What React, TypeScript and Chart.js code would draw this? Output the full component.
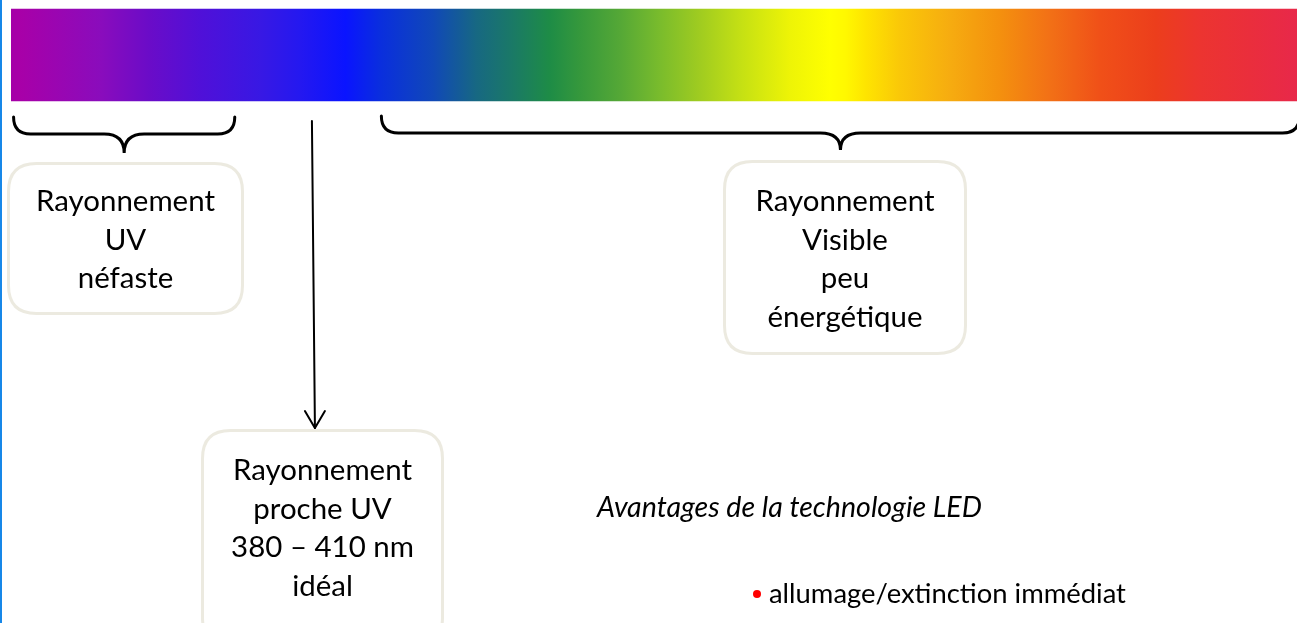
import React, { useEffect, useRef } from "react";
import { Chart, registerables } from "chart.js";

Chart.register(...registerables);

// Spectrum axis (wavelength, nm)
const spectrumRange: [number, number] = [280, 780];
const spectrumRow = 55;
// Colour stops along the spectrum (fraction of the bar, colour)
const stopPositions = [0, 0.007, 0.07, 0.108, 0.147, 0.194, 0.225, 0.26, 0.287, 0.328, 0.362, 0.388, 0.419, 0.442, 0.474, 0.505, 0.536, 0.567, 0.606, 0.637, 0.649, 0.665, 0.691, 0.73, 0.769, 0.808, 0.847, 0.89, 0.925, 0.963, 1];
const stopColors = ["#A400A8", "#A800A8", "#8A0CBC", "#6A0CC8", "#5010D8", "#3818E4", "#2418F0", "#0A14FF", "#0A2EDE", "#1048B8", "#176882", "#1A7868", "#1E8C46", "#35983C", "#55A836", "#7ABC2C", "#A0CC20", "#C4E014", "#EEF406", "#FFFF00", "#FFF800", "#FEE400", "#FAC808", "#F6AC10", "#F4900E", "#F27016", "#F05018", "#EC3E1C", "#EC3430", "#EA2E3C", "#E8284A"];

// Regions of the spectrum (nm)
const uvBand: [number, number] = [281, 367];
const nearUvPeak = 397;
const visibleBand: [number, number] = [424, 781];

// Texts
const uvLabel = ["Rayonnement", "UV", "néfaste"];
const visibleLabel = ["Rayonnement", "Visible", "peu", "énergétique"];
const nearUvLabel = ["Rayonnement", "proche UV", "380 – 410 nm", "idéal"];
const advantagesTitle = "Avantages de la technologie LED";
const advantagesItems = ["allumage/extinction immédiat"];

const FONT = "Lato, 'Noto Sans', sans-serif";

function fitSize(ctx: CanvasRenderingContext2D, text: string, style: string, target: number) {
  ctx.font = `${style} 100px ${FONT}`;
  const w = ctx.measureText(text).width;
  return (100 * target) / w;
}

function roundRect(ctx: CanvasRenderingContext2D, x: number, y: number, w: number, h: number, r: number) {
  ctx.beginPath();
  ctx.moveTo(x + r, y);
  ctx.lineTo(x + w - r, y);
  ctx.quadraticCurveTo(x + w, y, x + w, y + r);
  ctx.lineTo(x + w, y + h - r);
  ctx.quadraticCurveTo(x + w, y + h, x + w - r, y + h);
  ctx.lineTo(x + r, y + h);
  ctx.quadraticCurveTo(x, y + h, x, y + h - r);
  ctx.lineTo(x, y + r);
  ctx.quadraticCurveTo(x, y, x + r, y);
  ctx.closePath();
}

function brace(ctx: CanvasRenderingContext2D, x0: number, x1: number, yTop: number, yH: number, yCusp: number, r: number) {
  const cx = (x0 + x1) / 2;
  const cw = 20;
  ctx.beginPath();
  ctx.moveTo(x0, yTop);
  ctx.quadraticCurveTo(x0, yH, x0 + r, yH);
  ctx.lineTo(cx - cw, yH);
  ctx.quadraticCurveTo(cx, yH, cx, yCusp);
  ctx.quadraticCurveTo(cx, yH, cx + cw, yH);
  ctx.lineTo(x1 - r, yH);
  ctx.quadraticCurveTo(x1, yH, x1, yTop);
  ctx.stroke();
}

const overlay = {
  id: "overlay",
  beforeDraw(chart: any) {
    const ctx: CanvasRenderingContext2D = chart.ctx;
    ctx.save();
    ctx.fillStyle = "#ffffff";
    ctx.fillRect(0, 0, chart.width, chart.height);
    ctx.fillStyle = "#1787E8";
    ctx.fillRect(0, 0, 2, chart.height);
    ctx.restore();
  },
  afterDatasetsDraw(chart: any) {
    const ctx: CanvasRenderingContext2D = chart.ctx;
    const xs = chart.scales.x;
    ctx.save();
    ctx.strokeStyle = "#000";
    ctx.lineWidth = 3;
    ctx.lineCap = "round";
    brace(ctx, xs.getPixelForValue(uvBand[0]), xs.getPixelForValue(uvBand[1]), 117, 134, 153, 17);
    brace(ctx, xs.getPixelForValue(visibleBand[0]), xs.getPixelForValue(visibleBand[1]), 116, 133, 150, 17);

    // arrow
    const ax = xs.getPixelForValue(nearUvPeak);
    ctx.lineWidth = 2;
    ctx.beginPath();
    ctx.moveTo(ax, 121);
    ctx.lineTo(ax + 3, 428);
    ctx.stroke();
    ctx.beginPath();
    ctx.moveTo(ax + 3 - 10, 411);
    ctx.lineTo(ax + 3, 428);
    ctx.lineTo(ax + 3 + 10, 411);
    ctx.stroke();

    // boxes
    const boxes = [
      { x: 8.5, y: 163.5, w: 234, h: 150, cx: 125.5, lines: uvLabel, base: 211 },
      { x: 724.5, y: 161.5, w: 241, h: 192, cx: 845, lines: visibleLabel, base: 211 },
      { x: 202.5, y: 430.5, w: 240, h: 215, cx: 322.5, lines: nearUvLabel, base: 480 },
    ];
    const size = fitSize(ctx, "Rayonnement", "normal", 179);
    for (const b of boxes) {
      roundRect(ctx, b.x, b.y, b.w, b.h, 28);
      ctx.fillStyle = "#ffffff";
      ctx.fill();
      ctx.strokeStyle = "#ECEAE0";
      ctx.lineWidth = 3;
      ctx.stroke();
      ctx.fillStyle = "#000";
      ctx.textAlign = "center";
      ctx.textBaseline = "alphabetic";
      ctx.font = `normal ${size}px ${FONT}`;
      b.lines.forEach((t, i) => ctx.fillText(t, b.cx, b.base + i * 38.5));
    }

    // advantages
    const tSize = fitSize(ctx, advantagesTitle, "italic", 385);
    ctx.font = `italic ${tSize}px ${FONT}`;
    ctx.textAlign = "left";
    ctx.fillText(advantagesTitle, 597, 517);
    const iSize = fitSize(ctx, advantagesItems[0], "normal", 357);
    ctx.font = `normal ${iSize}px ${FONT}`;
    advantagesItems.forEach((t, i) => {
      const y = 603 + i * 40;
      ctx.fillStyle = "#FF0000";
      ctx.beginPath();
      ctx.arc(757, y - 9, 4, 0, Math.PI * 2);
      ctx.fill();
      ctx.fillStyle = "#000";
      ctx.fillText(t, 769, y);
    });
    ctx.restore();
  },
};

export default function App() {
  const ref = useRef<HTMLCanvasElement>(null);
  useEffect(() => {
    if (!ref.current) return;
    const chart = new Chart(ref.current, {
      type: "bar",
      data: {
        datasets: [
          {
            label: "Spectre",
            data: [{ x: spectrumRange, y: spectrumRow }] as any,
            barThickness: 92,
            borderWidth: 0,
            backgroundColor: (c: any) => {
              const ch = c.chart;
              const area = ch.chartArea;
              if (!area) return stopColors[0];
              const xs = ch.scales.x;
              const g = ch.ctx.createLinearGradient(xs.getPixelForValue(spectrumRange[0]), 0, xs.getPixelForValue(spectrumRange[1]), 0);
              stopPositions.forEach((p, i) => g.addColorStop(p, stopColors[i]));
              return g;
            },
          },
        ],
      },
      options: {
        indexAxis: "y",
        responsive: false,
        animation: false,
        layout: { padding: { left: 11, right: 0, top: 0, bottom: 0 } },
        scales: {
          x: { type: "linear", min: spectrumRange[0], max: spectrumRange[1], display: false, offset: false },
          y: { type: "linear", min: 0, max: 623, reverse: true, display: false, offset: false },
        },
        plugins: { legend: { display: false }, tooltip: { enabled: false } },
      },
      plugins: [overlay],
    });
    return () => chart.destroy();
  }, []);
  return (
    <div style={{ position: "fixed", left: 0, top: 0, width: 1297, height: 623, background: "#fff" }}>
      <canvas ref={ref} width={1297} height={623} style={{ display: "block" }} />
    </div>
  );
}
